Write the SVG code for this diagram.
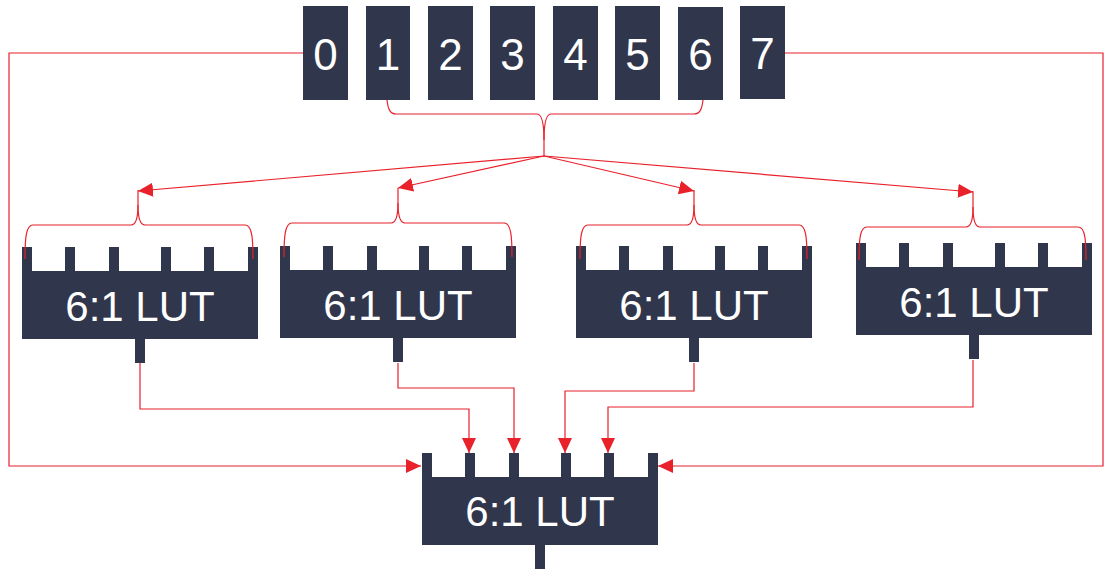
<svg xmlns="http://www.w3.org/2000/svg" xmlns:xlink="http://www.w3.org/1999/xlink" width="1110" height="576" viewBox="0 0 1110 576">
<style>
.box{fill:#30364b}
.num{font-family:"Liberation Sans",Arial,sans-serif;font-size:44px;fill:#ffffff;text-anchor:middle}
.lbl{font-family:"Liberation Sans",Arial,sans-serif;font-size:42px;fill:#ffffff;text-anchor:middle}
.wire{fill:none;stroke:#e8212a;stroke-width:1.2}
.brace{fill:none;stroke:#e8212a;stroke-width:1.2}
</style>
<defs>
<marker id="arr" markerUnits="userSpaceOnUse" markerWidth="15" markerHeight="14" refX="15" refY="7" orient="auto" viewBox="0 0 15 14">
<path d="M0,0 L15,7 L0,14 Z" fill="#e8212a"/>
</marker>
<path id="lut" d="M0,0 h10 v24 h33 v-24 h10 v24 h34 v-24 h10 v24 h42 v-24 h10 v24 h33 v-24 h10 v24 h34 v-24 h10 v92 H123 v24 h-10 v-24 H0 Z"/>
</defs>
<rect width="1110" height="576" fill="#ffffff"/>
<g id="bits">
<g id="bit0"><rect class="box" x="303" y="6" width="45" height="94"/><text class="num" x="325.5" y="70">0</text></g>
<g id="bit1"><rect class="box" x="366" y="6" width="44" height="94"/><text class="num" x="388" y="70">1</text></g>
<g id="bit2"><rect class="box" x="428" y="6" width="45" height="94"/><text class="num" x="450.5" y="70">2</text></g>
<g id="bit3"><rect class="box" x="490" y="6" width="45" height="94"/><text class="num" x="512.5" y="70">3</text></g>
<g id="bit4"><rect class="box" x="553" y="6" width="45" height="94"/><text class="num" x="575.5" y="70">4</text></g>
<g id="bit5"><rect class="box" x="615" y="6" width="45" height="94"/><text class="num" x="637.5" y="70">5</text></g>
<g id="bit6"><rect class="box" x="678" y="7" width="45" height="93"/><text class="num" x="700.5" y="70">6</text></g>
<g id="bit7"><rect class="box" x="740" y="6" width="45" height="93"/><text class="num" x="762.5" y="69">7</text></g>
</g>
<g id="lut1"><use xlink:href="#lut" href="#lut" class="box" x="22" y="247"/><text class="lbl" x="140" y="321">6:1 LUT</text></g>
<g id="lut2"><use xlink:href="#lut" href="#lut" class="box" x="280" y="246"/><text class="lbl" x="398" y="320">6:1 LUT</text></g>
<g id="lut3"><use xlink:href="#lut" href="#lut" class="box" x="576" y="246"/><text class="lbl" x="694" y="320">6:1 LUT</text></g>
<g id="lut4"><use xlink:href="#lut" href="#lut" class="box" x="856" y="243"/><text class="lbl" x="974" y="317">6:1 LUT</text></g>
<g id="lut5"><use xlink:href="#lut" href="#lut" class="box" x="422" y="453"/><text class="lbl" x="540" y="526">6:1 LUT</text></g>
<g id="connectors">
<path class="brace" d="M387,100 C388,109 390,114 396,114 L537,114 C542,114 544,122 544,140 L544,156"/>
<path class="brace" d="M703,100 C702,109 700,114 694,114 L551,114 C546,114 544,122 544,140"/>
<path class="wire" d="M544,156 L138,191" marker-end="url(#arr)"/>
<path class="wire" d="M544,156 L398,188" marker-end="url(#arr)"/>
<path class="wire" d="M544,156 L694,191" marker-end="url(#arr)"/>
<path class="wire" d="M544,156 L973,192" marker-end="url(#arr)"/>
<path class="brace" d="M25,259 C25,238 26,225 33,225 L131,225 C136,225 138,218 138,205 L138,190"/>
<path class="brace" d="M253,259 C253,238 252,225 245,225 L145,225 C140,225 138,218 138,205"/>
<path class="brace" d="M284,257 C284,236 285,223 292,223 L391,223 C396,223 398,216 398,203 L398,188"/>
<path class="brace" d="M512,257 C512,236 511,223 504,223 L405,223 C400,223 398,216 398,203"/>
<path class="brace" d="M580,259 C580,238 581,225 588,225 L687,225 C692,225 694,218 694,205 L694,190"/>
<path class="brace" d="M807,259 C807,238 806,225 799,225 L701,225 C696,225 694,218 694,205"/>
<path class="brace" d="M859,260 C859,239 860,227 867,227 L966,227 C971,227 973,220 973,207 L973,191"/>
<path class="brace" d="M1086,260 C1086,239 1085,227 1078,227 L980,227 C975,227 973,220 973,207"/>
<path class="wire" d="M140,363 V409 H469 V453" marker-end="url(#arr)"/>
<path class="wire" d="M398,363 V388 H514 V453" marker-end="url(#arr)"/>
<path class="wire" d="M694,363 V391 H565 V453" marker-end="url(#arr)"/>
<path class="wire" d="M973,360 V407 H608 V453" marker-end="url(#arr)"/>
<path class="wire" d="M303,53 H9 V466 H421" marker-end="url(#arr)"/>
<path class="wire" d="M785,53 H1103 V466 H658" marker-end="url(#arr)"/>
</g>
</svg>
